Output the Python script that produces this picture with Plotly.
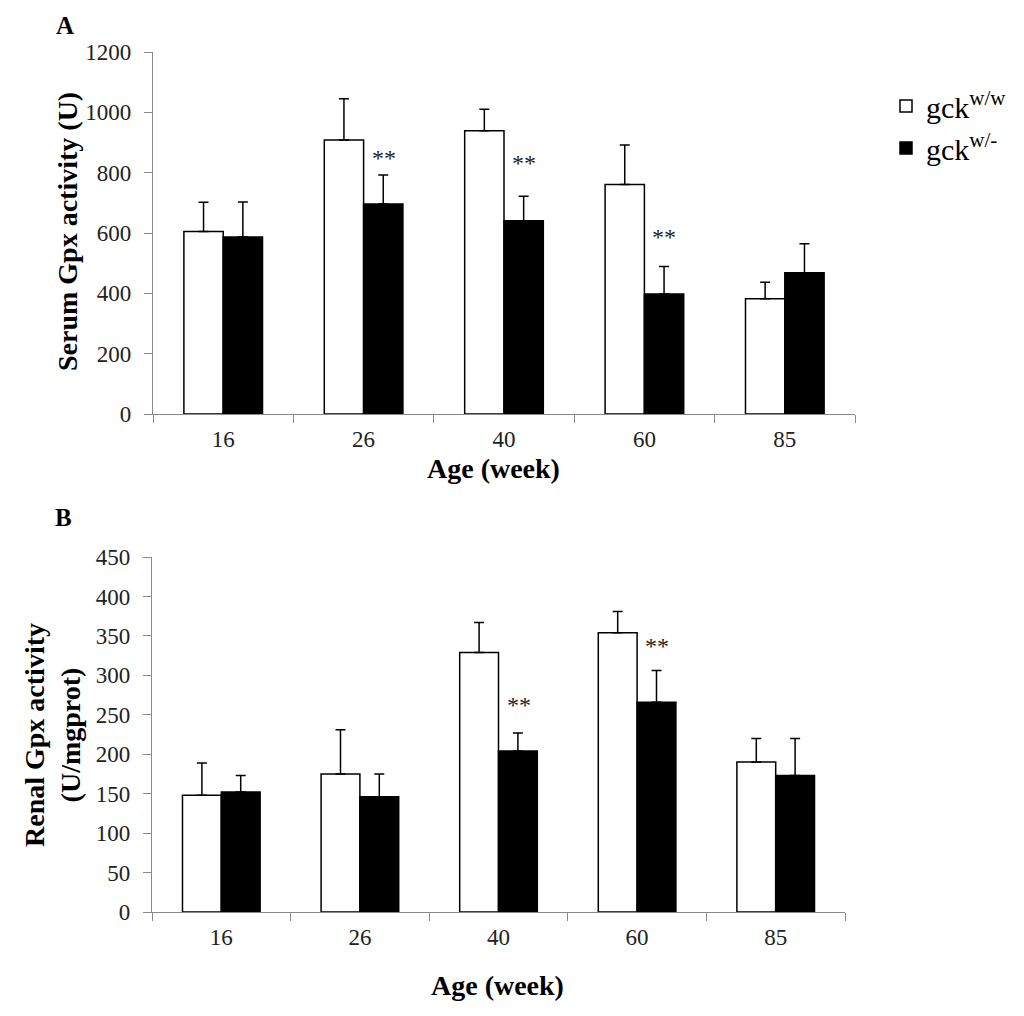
import plotly.graph_objects as go

# idades (semanas)
ages = ['16', '26', '40', '60', '85']

# painel A - Gpx no soro (U)
serum_ww = [605, 908, 939, 761, 382]
serum_ww_err = [97, 137, 71, 131, 55]
serum_wm = [587, 696, 641, 398, 468]
serum_wm_err = [116, 96, 81, 91, 96]
serum_sig = ['', '**', '**', '**', '']
serum_sig_y = [0, 848, 832, 587, 0]

# painel B - Gpx renal (U/mgprot)
renal_ww = [148, 175, 329, 354, 190]
renal_ww_err = [41, 56, 38, 27, 30]
renal_wm = [152, 146, 204, 266, 173]
renal_wm_err = [21, 29, 23, 40, 47]
renal_sig = ['', '', '**', '**', '']
renal_sig_y = [0, 0, 262, 337, 0]

FONT = 'Liberation Serif'
AXIS_GREY = '#8a8a8a'
W, H = 1024, 1016

fig = go.Figure()

def add_pair(xa, ya, v1, e1, v2, e2, legend):
    fig.add_trace(go.Bar(
        x=ages, y=v1, name='gck<sup>w/w</sup>', showlegend=legend,
        marker=dict(color='white', line=dict(color='black', width=1.5)),
        error_y=dict(type='data', array=e1, symmetric=False, arrayminus=[0] * 5,
                     color='black', thickness=1.5, width=5),
        xaxis=xa, yaxis=ya, offsetgroup='a'))
    fig.add_trace(go.Bar(
        x=ages, y=v2, name='gck<sup>w/-</sup>', showlegend=legend,
        marker=dict(color='black', line=dict(color='black', width=1.5)),
        error_y=dict(type='data', array=e2, symmetric=False, arrayminus=[0] * 5,
                     color='black', thickness=1.5, width=5),
        xaxis=xa, yaxis=ya, offsetgroup='b'))

add_pair('x', 'y', serum_ww, serum_ww_err, serum_wm, serum_wm_err, True)
add_pair('x2', 'y2', renal_ww, renal_ww_err, renal_wm, renal_wm_err, False)

xcommon = dict(type='category', range=[-0.5, 4.5], automargin=False,
               showline=True, linecolor=AXIS_GREY, linewidth=1.3,
               ticks='outside', tickson='boundaries', ticklen=8, tickcolor=AXIS_GREY,
               tickfont=dict(family=FONT, size=23, color='#222'), ticklabelstandoff=4,
               tickangle=0, showgrid=False, zeroline=False, fixedrange=True)
ycommon = dict(automargin=False, showline=True, linecolor=AXIS_GREY, linewidth=1.3,
               ticks='outside', ticklen=8, tickcolor=AXIS_GREY,
               tickfont=dict(family=FONT, size=23, color='#222'), ticklabelstandoff=8,
               showgrid=False, zeroline=False, fixedrange=True)

# pixel -> paper (a pagina tem 8px de margem no body)
def px(v):
    return (v - 8) / W

def py(v):
    return 1 - (v - 8) / H

fig.update_layout(
    width=W, height=H,
    margin=dict(l=0, r=0, t=0, b=0, autoexpand=False),
    paper_bgcolor='white', plot_bgcolor='white',
    barmode='group', bargap=0.44, bargroupgap=0,
    xaxis=dict(domain=[px(153), px(855)], anchor='y', **xcommon),
    yaxis=dict(domain=[py(414), py(52)], anchor='x', range=[0, 1200], dtick=200, **ycommon),
    xaxis2=dict(domain=[px(152), px(845)], anchor='y2', **xcommon),
    yaxis2=dict(domain=[py(912), py(557)], anchor='x2', range=[0, 450], dtick=50, **ycommon),
    legend=dict(x=px(886), y=py(80), xanchor='left', yanchor='top',
                font=dict(family=FONT, size=30, color='black'),
                bgcolor='rgba(0,0,0,0)'),
    font=dict(family=FONT, color='black'),
)

ann = []
for i, s in enumerate(serum_sig):
    if s:
        ann.append(dict(x=i, y=serum_sig_y[i], xref='x', yref='y', text=s,
                        showarrow=False, xshift=20, font=dict(family=FONT, size=24, color='#222')))
for i, s in enumerate(renal_sig):
    if s:
        ann.append(dict(x=i, y=renal_sig_y[i], xref='x2', yref='y2', text=s,
                        showarrow=False, xshift=20, font=dict(family=FONT, size=24, color='#222')))

bold = dict(family=FONT, size=28, color='black')
lab = dict(family=FONT, size=25, color='black')
mid = dict(xref='paper', yref='paper', xanchor='center', yanchor='middle', showarrow=False)
ann += [
    dict(x=px(65), y=py(26), text='<b>A</b>', font=lab, **mid),
    dict(x=px(63), y=py(517), text='<b>B</b>', font=lab, **mid),
    dict(x=px(493), y=py(468), text='<b>Age (week)</b>', font=bold, **mid),
    dict(x=px(497), y=py(985), text='<b>Age (week)</b>', font=bold, **mid),
    dict(x=px(67), y=py(232), text='<b>Serum Gpx activity (U)</b>', textangle=-90,
         font=bold, **mid),
    dict(x=px(52), y=py(735), text='<b>Renal Gpx activity<br>(U/mgprot)</b>', textangle=-90,
         font=bold, **mid),
]
fig.update_layout(annotations=ann)

fig.write_html('out.html')
